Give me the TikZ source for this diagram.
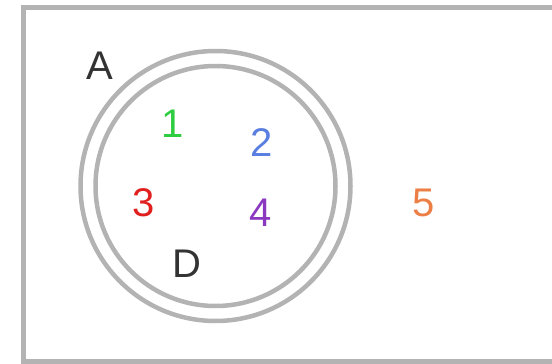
\documentclass[tikz,border=0pt]{standalone}
\usepackage{fontspec}
\setmainfont{Liberation Sans}
\usepackage{xcolor}
\definecolor{cline}{HTML}{B3B3B3}
\definecolor{cdark}{HTML}{333333}
\definecolor{cone}{HTML}{2ECC40}
\definecolor{ctwo}{HTML}{5B7FE0}
\definecolor{cthree}{HTML}{E0201F}
\definecolor{cfour}{HTML}{8A38C0}
\definecolor{cfive}{HTML}{EC7F45}
\tikzset{
  frame/.style={draw=cline, line width=5pt},
  ring/.style={draw=cline, line width=4.5pt},
  lbl/.style={inner sep=0pt, font=\fontsize{40}{44}\selectfont},
  setlbl/.style={lbl, text=cdark},
}
\begin{document}
\begin{tikzpicture}[x=1pt,y=-1pt]
\useasboundingbox (0,0) rectangle (552,364);
\clip (0,0) rectangle (552,364);
\draw[frame] (23.5,7) rectangle (600,361);
% set A with its inner set D
\draw[ring] (215.5,186) circle[radius=135pt];
\draw[ring] (215.5,186) circle[radius=120pt];
\node[setlbl] (a) at (100,66) {A};
\node[setlbl] (d) at (187,264) {D};
% elements
\node[lbl, text=cone] (e1) at (173,124) {1};
\node[lbl, text=ctwo] (e2) at (262,143) {2};
\node[lbl, text=cthree] (e3) at (144,203) {3};
\node[lbl, text=cfour] (e4) at (261,213) {4};
\node[lbl, text=cfive] (e5) at (424,203) {5};
\end{tikzpicture}
\end{document}
